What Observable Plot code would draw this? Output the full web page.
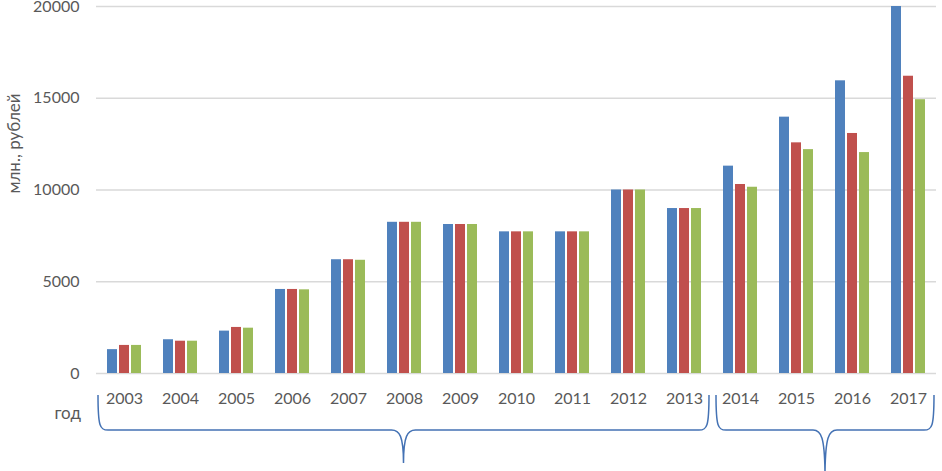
<!DOCTYPE html>
<html>
<head>
<meta charset="utf-8">
<script src="https://cdn.jsdelivr.net/npm/d3@7"></script>
<script src="https://cdn.jsdelivr.net/npm/@observablehq/plot@0.6"></script>
<style>
  html, body { margin: 0; padding: 0; background: #ffffff; }
  #chart { width: 942px; height: 471px; }
  .axis-title, .axis-title text { font-size: 17px !important; }
</style>
</head>
<body>
<div id="chart"></div>
<script>
const years = ["2003","2004","2005","2006","2007","2008","2009","2010","2011","2012","2013","2014","2015","2016","2017"];
const seriesNames = ["Ряд 1", "Ряд 2", "Ряд 3"];
const seriesColors = ["#4F81BD", "#C0504D", "#9BBB59"];
const series1 = [1300, 1840, 2310, 4580, 6200, 8240, 8120, 7720, 7720, 10000, 8990, 11300, 13970, 15950, 20000];
const series2 = [1530, 1760, 2510, 4580, 6200, 8240, 8120, 7720, 7720, 10000, 8990, 10300, 12570, 13080, 16200];
const series3 = [1530, 1760, 2470, 4560, 6170, 8240, 8120, 7720, 7720, 10000, 8990, 10150, 12200, 12040, 14920];
const yTicks = [0, 5000, 10000, 15000, 20000];
const yAxisTitle = "млн., рублей";
const xAxisTitle = "год";
const braceGroups = [["2003", "2013"], ["2014", "2017"]];

const allSeries = [series1, series2, series3];
const data = [];
years.forEach((year, i) => {
  seriesNames.forEach((name, s) => {
    data.push({year, series: name, value: allSeries[s][i]});
  });
});

const textColor = "#595959";
const font = "Lato, 'Open Sans', 'Noto Sans', sans-serif";

const plot = Plot.plot({
  width: 942,
  height: 471,
  marginLeft: 90,
  marginRight: 0,
  marginTop: 6,
  marginBottom: 98,
  style: {fontFamily: font, fontSize: "16px", color: textColor, background: "#ffffff", overflow: "visible"},
  fx: {domain: years, padding: 0, label: null},
  x: {domain: seriesNames, paddingInner: 0.2, paddingOuter: 0.872, axis: null},
  y: {domain: [0, 20000], label: null},
  color: {domain: seriesNames, range: seriesColors},
  marks: [
    Plot.ruleY(yTicks, {stroke: "#d9d9d9", strokeWidth: 1.3}),
    Plot.barY(data, {fx: "year", x: "series", y: "value", fill: "series"}),
    Plot.axisY({ticks: yTicks, tickSize: 0, tickPadding: 17, fontSize: 16, label: null, tickFormat: d => String(d)}),
    Plot.axisFx({anchor: "bottom", tickSize: 0, tickPadding: 19, fontSize: 16, label: null}),
    Plot.text([yAxisTitle], {frameAnchor: "left", rotate: -90, textAnchor: "middle", lineAnchor: "middle", dx: -82, dy: -46.5, fontSize: 17, fill: textColor, facet: "super", className: "axis-title"}),
    Plot.text([xAxisTitle], {frameAnchor: "bottom-left", textAnchor: "start", lineAnchor: "middle", dx: -42, dy: 40, fontSize: 17, fill: textColor, facet: "super", className: "axis-title"})
  ]
});

document.getElementById("chart").appendChild(plot);

// Curly braces under the category groups, positioned from the fx scale
const fx = plot.scale("fx");
const bw = fx.bandwidth;
const svg = d3.select(plot.tagName.toLowerCase() === "svg" ? plot : plot.querySelector("svg"));
const tips = [463, 478];
braceGroups.forEach(([a, b], k) => {
  const x0 = fx.apply(a) + (k === 0 ? 2 : 4);
  const x1 = fx.apply(b) + bw - (k === 0 ? 3 : 2);
  const mid = (x0 + x1) / 2;
  const yTop = 395, yh = 430, yTip = tips[k];
  const p = `M${x0},${yTop} C${x0},${yh - 3} ${x0 + 2},${yh} ${x0 + 10},${yh} ` +
            `L${mid - 12},${yh} C${mid - 4},${yh} ${mid},${yh + 6} ${mid},${yTip} ` +
            `M${mid},${yTip} C${mid},${yh + 6} ${mid + 4},${yh} ${mid + 12},${yh} ` +
            `L${x1 - 10},${yh} C${x1 - 2},${yh} ${x1},${yh - 3} ${x1},${yTop}`;
  svg.append("path").attr("d", p).attr("fill", "none").attr("stroke", "#4472B4").attr("stroke-width", 1.5);
});
</script>
</body>
</html>
